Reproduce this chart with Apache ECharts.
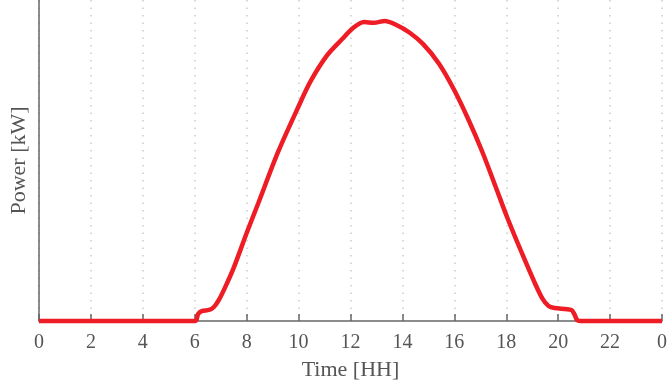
<!DOCTYPE html>
<html>
<head>
<meta charset="utf-8">
<script src="https://cdn.jsdelivr.net/npm/echarts@6/dist/echarts.min.js"></script>
<style>
  html, body { margin: 0; padding: 0; background: #fff; }
  #chart { width: 670px; height: 387px; }
</style>
</head>
<body>
<div id="chart"></div>
<script>
// Daily PV power profile, hour of day vs output power
const hours = [0, 6.02, 6.13, 6.29, 6.55, 6.74, 6.93, 7.16, 7.5, 8.0, 8.45, 9.21, 9.97,
  10.47, 11.11, 11.68, 12.1, 12.52, 12.9, 13.32, 13.77, 14.27, 14.8, 15.41,
  15.98, 16.55, 17.08, 17.58, 18.03, 18.6, 19.1, 19.4, 19.63, 19.86, 20.5, 20.62, 20.73, 20.85, 24];
const power = [0, 0, 0.07, 0.10, 0.11, 0.14, 0.21, 0.33, 0.53, 0.877, 1.176, 1.685, 2.123,
  2.393, 2.652, 2.811, 2.921, 2.981, 2.972, 2.991, 2.951, 2.876, 2.76, 2.565,
  2.31, 2.004, 1.685, 1.346, 1.037, 0.678, 0.379, 0.22, 0.15, 0.13, 0.11, 0.07, 0.01, 0, 0];
const xTicks = [0, 2, 4, 6, 8, 10, 12, 14, 16, 18, 20, 22, 24];
const tickText = ['0', '2', '4', '6', '8', '10', '12', '14', '16', '18', '20', '22', '0'];

const serif = '"Liberation Serif", "DejaVu Serif", serif';
const chart = echarts.init(document.getElementById('chart'));
chart.setOption({
  animation: false,
  grid: { left: 37.7, right: 1, top: 0, bottom: 66 },
  xAxis: {
    type: 'value', min: 0, max: 24, interval: 2,
    name: 'Time [HH]', nameLocation: 'middle', nameGap: 38,
    nameTextStyle: { fontFamily: serif, fontSize: 22, color: '#555' },
    axisLine: { lineStyle: { color: '#666', width: 1.5 } },
    axisTick: { inside: true, length: 7, lineStyle: { color: '#666', width: 1.5 } },
    axisLabel: {
      margin: 12, fontFamily: serif, fontSize: 20, color: '#555',
      formatter: v => tickText[xTicks.indexOf(v)] ?? ''
    },
    splitLine: { show: true, lineStyle: { color: '#ccc', type: [1.5, 6], width: 1.5 } }
  },
  yAxis: {
    type: 'value', min: 0, max: 3.2,
    name: 'Power [kW]', nameLocation: 'middle', nameGap: 9,
    nameTextStyle: { fontFamily: serif, fontSize: 22, color: '#555' },
    axisLine: { show: true, lineStyle: { color: '#666', width: 1.5 } },
    axisTick: { show: false },
    axisLabel: { show: false },
    splitLine: { show: false }
  },
  series: [{
    type: 'line',
    data: hours.map((h, i) => [h, power[i]]),
    showSymbol: false,
    smooth: 0.3,
    lineStyle: { color: '#ee1c25', width: 4.5 },
    clip: false
  }]
});
</script>
</body>
</html>
